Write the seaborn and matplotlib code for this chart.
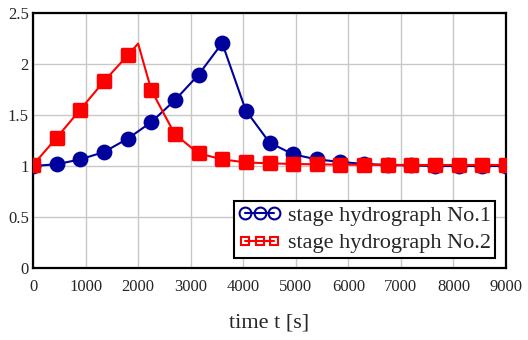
import numpy as np
import pandas as pd
import matplotlib
matplotlib.use("Agg")
import matplotlib.pyplot as plt
from matplotlib.lines import Line2D
import seaborn as sns

# ---- data ----
t_samples = [0, 450, 900, 1350, 1800, 2250, 2700, 3150, 3600, 4050, 4500,
             4950, 5400, 5850, 6300, 6750, 7200, 7650, 8100, 8550, 9000]
stage1 = [1.00, 1.017, 1.065, 1.137, 1.267, 1.43, 1.645, 1.895, 2.205, 1.544, 1.23,
          1.114, 1.065, 1.04, 1.02, 1.01, 1.005, 1.0, 1.0, 1.0, 1.0]
stage2 = [1.01, 1.277, 1.553, 1.83, 2.084, 1.745, 1.31, 1.124, 1.065, 1.035, 1.026,
          1.02, 1.016, 1.013, 1.012, 1.011, 1.01, 1.01, 1.01, 1.01, 1.01]
stage2_peak_t = [2000]
stage2_peak = [2.2]
series_names = ["stage hydrograph No.1", "stage hydrograph No.2"]
x_ticks = [0, 1000, 2000, 3000, 4000, 5000, 6000, 7000, 8000, 9000]
y_ticks = [0, 0.5, 1, 1.5, 2, 2.5]
y_tick_labels = ["0", "0.5", "1", "1.5", "2", "2.5"]
x_label = "time t [s]"

blue = "#00009c"
red = "#ff0000"

df1 = pd.DataFrame({"t": t_samples, "h": stage1})
df2 = pd.DataFrame({"t": t_samples, "h": stage2})
df2_line = pd.concat([df2, pd.DataFrame({"t": stage2_peak_t, "h": stage2_peak})]).sort_values("t")

sns.set_style("white")
plt.rcParams["font.family"] = ["Liberation Serif", "DejaVu Serif"]

fig = plt.figure(figsize=(5.28, 3.40), dpi=100)
ax = fig.add_axes([33 / 528, 1 - 268 / 340, (506 - 33) / 528, (268 - 13) / 340])

sns.lineplot(data=df1, x="t", y="h", ax=ax, color=blue, lw=1.5, sort=False, zorder=3)
sns.scatterplot(data=df1, x="t", y="h", ax=ax, color=blue, marker="o", s=130,
                edgecolor=blue, linewidth=0, zorder=4)
sns.lineplot(data=df2_line, x="t", y="h", ax=ax, color=red, lw=1.5, sort=False, zorder=5)
sns.scatterplot(data=df2, x="t", y="h", ax=ax, color=red, marker="s", s=80,
                edgecolor=red, linewidth=2.5, zorder=6)
for coll in ax.collections[-1:]:
    coll.set_joinstyle("round")

ax.set_xlim(0, 9000)
ax.set_ylim(0, 2.5)
ax.set_xticks(x_ticks)
ax.set_xticklabels([str(v) for v in x_ticks], fontsize=12)
ax.set_yticks(y_ticks)
ax.set_yticklabels(y_tick_labels, fontsize=12)
ax.tick_params(axis="x", length=0, pad=8)
ax.tick_params(axis="y", length=0, pad=3)
ax.grid(True, color="#c8c8c8", lw=1)
ax.set_axisbelow(True)
for sp in ax.spines.values():
    sp.set_color("black")
    sp.set_linewidth(1.6)
    sp.set_visible(True)
ax.set_xlabel(x_label, fontsize=16, labelpad=13)
ax.set_ylabel("")

handles = [
    Line2D([0], [0], color=blue, lw=1.5, marker="o", markersize=8.5,
           markerfacecolor="none", markeredgecolor=blue, markeredgewidth=1.5),
    Line2D([0], [0], color=red, lw=1.5, marker="s", markersize=5.5,
           markerfacecolor="none", markeredgecolor=red, markeredgewidth=1.5),
]
leg = ax.legend(handles, series_names, loc="lower right", fontsize=16, numpoints=3,
                handlelength=1.9, handletextpad=0.3, borderpad=0.2, labelspacing=0.3,
                frameon=True, fancybox=False, bbox_to_anchor=(0.977, 0.04),
                borderaxespad=0.0)
leg.get_frame().set_edgecolor("black")
leg.get_frame().set_linewidth(1.5)
leg.get_frame().set_facecolor("white")
leg.get_frame().set_alpha(1)
leg.set_zorder(10)

fig.savefig("out.png", dpi=100)
